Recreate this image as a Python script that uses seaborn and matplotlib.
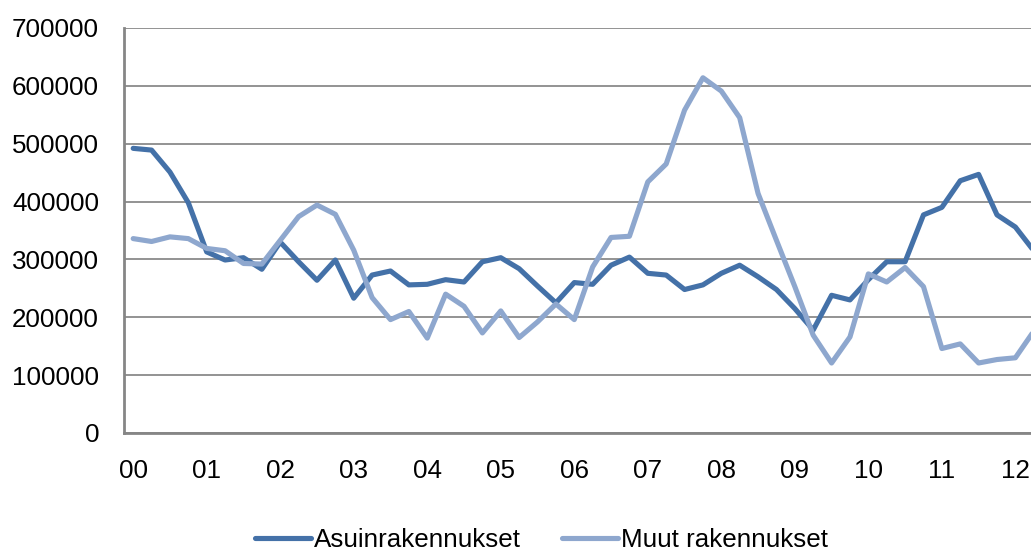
import numpy as np
import pandas as pd
import matplotlib
matplotlib.use('Agg')
import matplotlib.pyplot as plt
import seaborn as sns

# quarterly values, 2000 Q1 .. 2012 Q2
asuin = [492000, 489000, 451000, 398000, 313000, 299000, 303000, 283000,
         330000, 296000, 264000, 299000, 233000, 273000, 280000, 256000,
         257000, 265000, 261000, 296000, 303000, 284000, 254000, 225000,
         260000, 257000, 290000, 304000, 276000, 273000, 248000, 256000,
         276000, 290000, 270000, 248000, 215000, 178000, 238000, 230000,
         265000, 296000, 296000, 377000, 390000, 436000, 447000, 377000,
         356000, 315000]
muut = [336000, 331000, 339000, 336000, 319000, 315000, 293000, 292000,
        333000, 374000, 394000, 378000, 316000, 234000, 196000, 210000,
        164000, 240000, 219000, 173000, 211000, 165000, 192000, 223000,
        196000, 287000, 338000, 340000, 434000, 465000, 558000, 614000,
        591000, 545000, 414000, 333000, 253000, 169000, 121000, 166000,
        275000, 261000, 286000, 253000, 146000, 154000, 121000, 127000,
        130000, 176000]
year_labels = ['00', '01', '02', '03', '04', '05', '06', '07', '08', '09',
               '10', '11', '12']
series_names = ['Asuinrakennukset', 'Muut rakennukset']
colors = ['#4471a8', '#8ea7ce']

sns.set_theme(style='white')
plt.rcParams['font.family'] = ['Liberation Sans', 'DejaVu Sans']
plt.rcParams['text.color'] = 'black'

n = len(asuin)
df = pd.DataFrame({
    'q': list(range(n)) * 2,
    'value': asuin + muut,
    'series': [series_names[0]] * n + [series_names[1]] * n,
})

fig = plt.figure(figsize=(10.31, 5.5), dpi=100)
left = 124 / 1031
bottom = 1 - 433 / 550
top = 1 - 28 / 550
ax = fig.add_axes([left, bottom, 1 - left, top - bottom])

sns.lineplot(data=df, x='q', y='value', hue='series', ax=ax,
             palette=colors, linewidth=3.7, legend=False)
for line in ax.get_lines():
    line.set_solid_joinstyle('round')
    line.set_solid_capstyle('round')

ax.set_xlim(-0.5, 48.85)
ax.set_ylim(0, 700000)
ax.set_yticks(np.arange(0, 700001, 100000))
ax.set_yticklabels([str(v) for v in range(0, 700001, 100000)])
ax.set_xticks(np.arange(0, 4 * len(year_labels), 4))
ax.set_xticklabels(year_labels)
ax.yaxis.grid(True, color='#8a8a8a', linewidth=1.3)
ax.xaxis.grid(False)
ax.set_axisbelow(True)
ax.set_xlabel('')
ax.set_ylabel('')
ax.tick_params(axis='both', length=0, labelsize=18.7, colors='black')
ax.tick_params(axis='y', pad=18)
ax.tick_params(axis='x', pad=19)

for side in ['top', 'right']:
    ax.spines[side].set_visible(False)
for side in ['left', 'bottom']:
    ax.spines[side].set_color('#868686')
    ax.spines[side].set_linewidth(2)

handles = [plt.Line2D([], [], color=c, linewidth=3.7) for c in colors]
leg = fig.legend(handles, series_names, loc='center', ncol=2,
                 bbox_to_anchor=(541.5 / 1031, 1 - 540 / 550), frameon=False,
                 fontsize=18.7, handlelength=2.15, handletextpad=0.12,
                 columnspacing=1.6)
for t in leg.get_texts():
    t.set_color('black')

fig.savefig('out.png', dpi=100)
